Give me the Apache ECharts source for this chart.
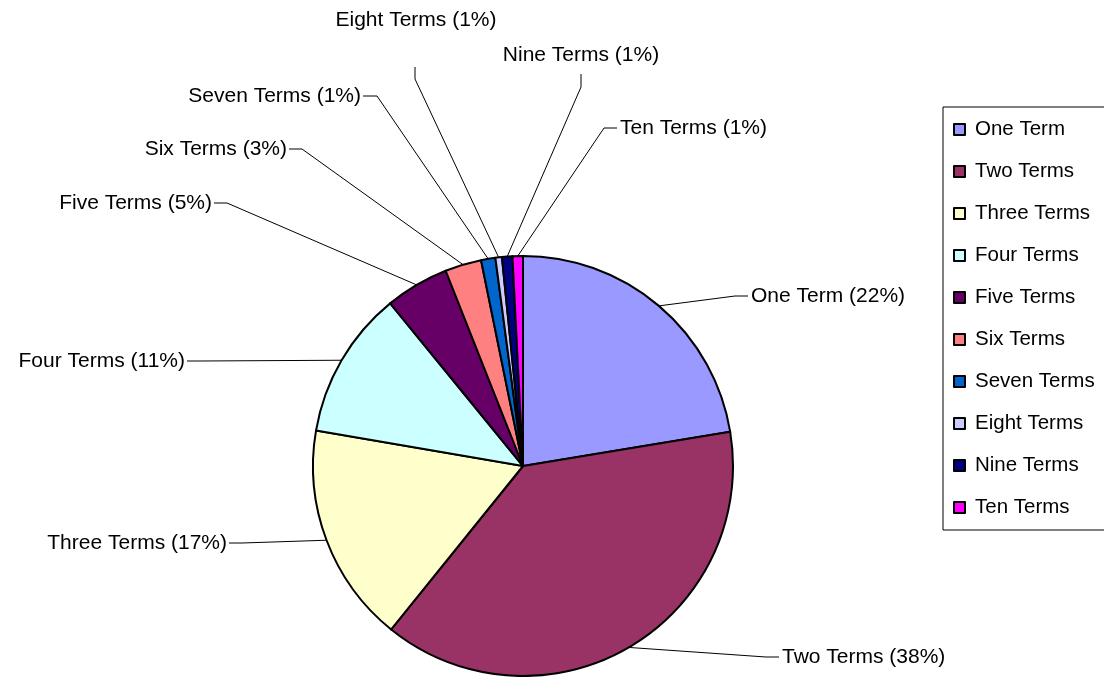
<!DOCTYPE html>
<html>
<head>
<meta charset="utf-8">
<script src="https://cdn.jsdelivr.net/npm/echarts@6/dist/echarts.min.js"></script>
<style>
  html, body { margin: 0; padding: 0; background: #fff; }
  #chart { width: 1104px; height: 677px; }
</style>
</head>
<body>
<div id="chart"></div>
<script>
// share of each category (percent)
var categories = ['One Term', 'Two Terms', 'Three Terms', 'Four Terms', 'Five Terms',
                  'Six Terms', 'Seven Terms', 'Eight Terms', 'Nine Terms', 'Ten Terms'];
var shares = [22.4, 38.4, 16.9, 11.4, 4.9, 2.8, 1.1, 0.5, 0.8, 0.8];
var colors = ['#9999FF', '#993366', '#FFFFCC', '#CCFFFF', '#660066',
              '#FF8080', '#0066CC', '#CCCCFF', '#000080', '#FF00FF'];

// where each label line ends (excel style callouts), text sits next to it
var labelSpots = [
  { end: [748, 296], bend: [735, 296], side: 'right' },
  { end: [779, 657], bend: [766, 657], side: 'right' },
  { end: [229, 543], bend: [242, 543], side: 'left' },
  { end: [187, 361], bend: [200, 361], side: 'left' },
  { end: [214, 203], bend: [227, 203], side: 'left' },
  { end: [289, 149], bend: [302, 149], side: 'left' },
  { end: [363, 96],  bend: [377, 96],  side: 'left' },
  { end: [415, 67],  bend: [415, 79],  side: 'top', text: [416, 20] },
  { end: [581, 74],  bend: [581, 87],  side: 'top', text: [581, 55] },
  { end: [617, 128], bend: [604, 128], side: 'right' }
];

var dom = document.getElementById('chart');
var myChart = echarts.init(dom, null, { renderer: 'canvas' });

var pieData = [];
for (var i = 0; i < categories.length; i++) {
  pieData.push({ name: categories[i], value: shares[i] });
}

var option = {
  animation: false,
  color: colors,
  textStyle: { fontFamily: 'Liberation Sans, Arial, sans-serif' },
  legend: {
    orient: 'vertical',
    left: 943,
    top: 107,
    padding: [12, 40, 12, 10],
    itemGap: 21,
    itemWidth: 11,
    itemHeight: 11,
    icon: 'rect',
    borderColor: '#000',
    borderWidth: 1,
    backgroundColor: '#fff',
    itemStyle: { borderColor: '#000', borderWidth: 2 },
    textStyle: {
      color: '#000',
      fontSize: 20.5,
      lineHeight: 20,
      padding: [0, 0, 0, 5],
      fontFamily: 'Liberation Sans, Arial, sans-serif'
    },
    data: categories
  },
  series: [
    {
      type: 'pie',
      center: [523, 466],
      radius: 210,
      startAngle: 90,
      clockwise: true,
      avoidLabelOverlap: false,
      itemStyle: { borderColor: '#000', borderWidth: 2 },
      emphasis: { disabled: true },
      label: {
        show: true,
        color: '#000',
        fontSize: 21,
        fontFamily: 'Liberation Sans, Arial, sans-serif',
        formatter: '{b} ({d}%)'
      },
      percentPrecision: 0,
      labelLine: {
        show: true,
        length: 20,
        length2: 10,
        lineStyle: { color: '#000', width: 1 }
      },
      labelLayout: function (params) {
        var s = labelSpots[params.dataIndex];
        var start = params.labelLinePoints ? params.labelLinePoints[0] : s.bend;
        var out = {
          verticalAlign: 'middle',
          labelLinePoints: [start, s.bend, s.end]
        };
        if (s.side === 'right') {
          out.x = s.end[0] + 3;
          out.y = s.end[1];
          out.align = 'left';
        } else if (s.side === 'left') {
          out.x = s.end[0] - 2;
          out.y = s.end[1];
          out.align = 'right';
        } else {
          out.x = s.text[0];
          out.y = s.text[1];
          out.align = 'center';
        }
        return out;
      },
      data: pieData
    }
  ]
};

myChart.setOption(option);
window.addEventListener('resize', myChart.resize);
</script>
</body>
</html>
